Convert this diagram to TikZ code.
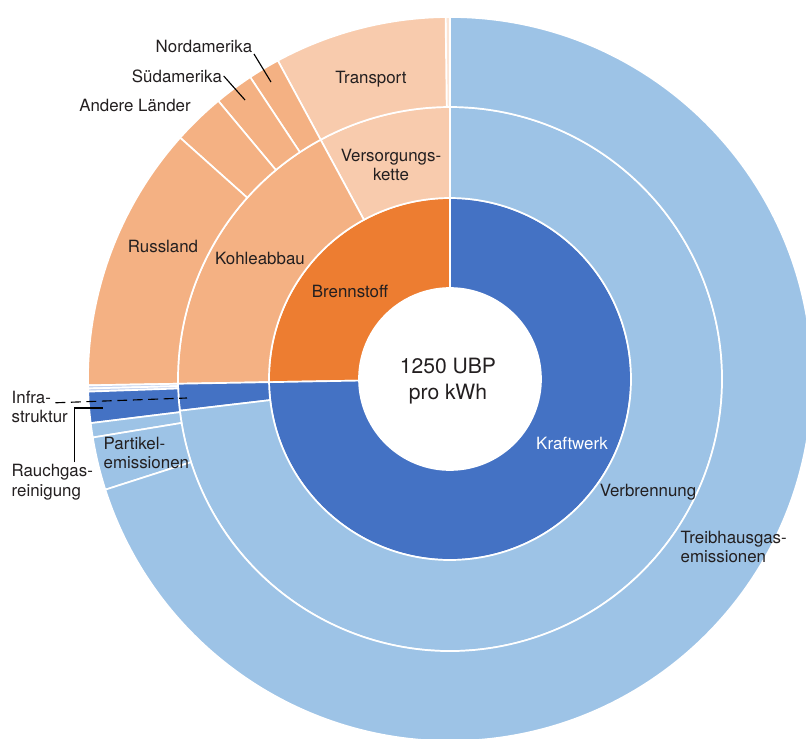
\documentclass[tikz,border=0pt]{standalone}
\usepackage{fontspec}
\setmainfont{TeX Gyre Heros}
\definecolor{brennstoff}{HTML}{ED7D31}
\definecolor{kraftwerk}{HTML}{4472C4}
\definecolor{kohle}{HTML}{F4B183}
\definecolor{versorgung}{HTML}{F8CBAD}
\definecolor{hellblau}{HTML}{9DC3E6}
\definecolor{lavendel}{HTML}{C3D2EE}
\definecolor{blass}{HTML}{FBE5D6}
\definecolor{schrift}{HTML}{231F20}

\begin{document}
\begin{tikzpicture}[x=0.025cm,y=0.025cm,
  seg/.style={draw=white,line width=1.2pt,line join=round},
  lbl/.style={font=\fontsize{12}{14}\selectfont,text=schrift,inner sep=1pt},
  lead/.style={draw=black,line width=0.8pt}]
  \useasboundingbox (-450,-359) rectangle (356,379);
  \clip (-450,-359) rectangle (356,379);

  % inner radius / outer radius / start / end / colour
  \foreach \ri/\ro/\a/\b/\col in {
    91/181/90/181/brennstoff, 91/181/181/450/kraftwerk,
    181/272/90/118.4/versorgung, 181/272/118.4/181/kohle,
    181/272/181/186.7/kraftwerk, 181/272/186.7/450/hellblau,
    272/362/90/90.7/blass, 272/362/90.7/118.4/versorgung,
    272/362/118.4/123.5/kohle, 272/362/123.5/129.8/kohle,
    272/362/129.8/138.2/kohle, 272/362/138.2/181/kohle,
    272/362/181/181.5/lavendel, 272/362/181.5/182/lavendel,
    272/362/182/187/kraftwerk, 272/362/187/189.3/hellblau,
    272/362/189.3/197.8/hellblau, 272/362/197.8/450/hellblau}{
    \filldraw[seg,fill=\col] (\a:\ri) arc[start angle=\a,end angle=\b,radius=\ri]
      -- (\b:\ro) arc[start angle=\b,end angle=\a,radius=\ro] -- cycle;
  }

  \node[lbl,font=\fontsize{15}{18.5}\selectfont,align=center] (mitte) at (-2,-2) {1250 UBP\\pro kWh};

  \node[lbl] (brennstoffL) at (-100,88) {Brennstoff};
  \node[lbl,text=white] (kraftwerkL) at (122,-64) {Kraftwerk};
  \node[lbl] (kohleabbau) at (-190,121) {Kohleabbau};
  \node[lbl,align=center] (versorgungL) at (-59,214) {Versorgungs-\\kette};
  \node[lbl] (verbrennung) at (198,-113) {Verbrennung};
  \node[lbl] (transport) at (-79,300) {Transport};
  \node[lbl] (russland) at (-287,133) {Russland};
  \node[lbl] (andere) at (-315,274) {Andere Länder};
  \node[lbl] (suedamerika) at (-273,303) {Südamerika};
  \node[lbl] (nordamerika) at (-246,333) {Nordamerika};
  \node[lbl,align=left,anchor=west] (treibhaus) at (229,-168) {Treibhausgas-\\emissionen};
  \node[lbl,align=left,anchor=west] (partikel) at (-348,-74) {Partikel-\\emissionen};
  \node[lbl,align=left,anchor=west] (infra) at (-440,-28) {Infra-\\struktur};
  \node[lbl,align=left,anchor=west] (rauch) at (-440,-103) {Rauchgas-\\reinigung};

  % leader lines
  \coordinate (nordPt) at (-179,297);
  \coordinate (suedPt) at (-205,279);
  \coordinate (infraPt) at (-263,-19);
  \coordinate (rauchPt) at (-347,-29);
  \draw[lead] (nordamerika.south east) -- (nordPt);
  \draw[lead] (suedamerika.east) -- (suedPt);
  \draw[lead,dash pattern=on 7pt off 4pt] ([xshift=-10pt,yshift=3pt]infra.east) -- (infraPt);
  \draw[lead] ([xshift=15.5pt]rauch.north) |- (rauchPt);
\end{tikzpicture}
\end{document}
